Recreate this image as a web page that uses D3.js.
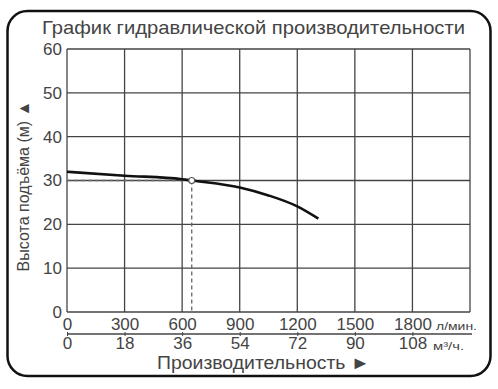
<!DOCTYPE html>
<html><head><meta charset="utf-8">
<script src="https://cdn.jsdelivr.net/npm/d3@7"></script>
<style>body{margin:0;background:#fff}svg{display:block}text{font-family:"Liberation Sans",Arial,sans-serif;fill:#444}</style>
</head><body>
<script>
const title = "График гидравлической производительности";
const yLabel = "Высота подъёма (м) ▲";
const xLabel = "Производительность ►";
const flowTicks = [0, 300, 600, 900, 1200, 1500, 1800];
const m3Ticks = [0, 18, 36, 54, 72, 90, 108];
const headTicks = [0, 10, 20, 30, 40, 50, 60];
const flowUnit = "л/мин.";
const m3Unit = "м³/ч.";
const curveFlow = [0, 300, 600, 650, 900, 1050, 1200, 1310];
const curveHead = [32.0, 31.1, 30.3, 30.0, 28.4, 26.6, 24.1, 21.3];
const opFlow = 650, opHead = 30;

const W = 498, H = 389;
const svg = d3.select("body").append("svg").attr("width", W).attr("height", H);
const L = 67, R = 470, T = 49, B = 312;
const x = d3.scaleLinear().domain([0, 2100]).range([L, R]);
const y = d3.scaleLinear().domain([0, 60]).range([B, T]);
const FF = "Liberation Sans, Arial, sans-serif";

// frame
svg.append("rect").attr("x", 7.5).attr("y", 11).attr("width", 483).attr("height", 365)
  .attr("rx", 20).attr("fill", "none").attr("stroke", "#111").attr("stroke-width", 2.5);

svg.append("text").attr("x", 42).attr("y", 34)
  .attr("font-size", 19).attr("textLength", 423).attr("lengthAdjust", "spacingAndGlyphs").text(title);

// grid
const gx = d3.range(0, 2101, 300);
svg.append("g").selectAll("line").data(gx).join("line")
  .attr("x1", d => x(d)).attr("x2", d => x(d)).attr("y1", T).attr("y2", B)
  .attr("stroke", "#444").attr("stroke-width", 1.3);
svg.append("g").selectAll("line").data(headTicks).join("line")
  .attr("x1", L).attr("x2", R).attr("y1", d => y(d)).attr("y2", d => y(d))
  .attr("stroke", "#444").attr("stroke-width", 1.3);

// y axis labels
const ya = svg.append("g").attr("transform", `translate(${L},0)`)
  .call(d3.axisLeft(y).tickValues(headTicks).tickSize(0).tickPadding(5));
ya.select(".domain").remove();
ya.selectAll("text").attr("font-size", 17).attr("fill", "#444").style("font-family", FF);

svg.append("text").attr("transform", "translate(29,186) rotate(-90)").attr("text-anchor", "middle")
  .attr("font-size", 16).text(yLabel);

// dashed operating lines
svg.append("line").attr("x1", L).attr("x2", x(opFlow)).attr("y1", y(opHead)).attr("y2", y(opHead))
  .attr("stroke", "#666").attr("stroke-width", 1.3).attr("stroke-dasharray", "4,3");
svg.append("line").attr("x1", x(opFlow)).attr("x2", x(opFlow)).attr("y1", y(opHead)).attr("y2", B)
  .attr("stroke", "#666").attr("stroke-width", 1.3).attr("stroke-dasharray", "4,3");

// curve
const pts = curveFlow.map((f, i) => [x(f), y(curveHead[i])]);
svg.append("path").attr("d", d3.line().curve(d3.curveMonotoneX)(pts))
  .attr("fill", "none").attr("stroke", "#111").attr("stroke-width", 2.6);
svg.append("circle").attr("cx", x(opFlow)).attr("cy", y(opHead)).attr("r", 3)
  .attr("fill", "#fff").attr("stroke", "#555").attr("stroke-width", 1.2);

// x axis labels row 1
const xa = svg.append("g").attr("transform", `translate(0,${B})`)
  .call(d3.axisBottom(x).tickValues(flowTicks).tickFormat(d3.format("d")).tickSize(0).tickPadding(6));
xa.select(".domain").remove();
xa.selectAll("text").attr("font-size", 17).attr("fill", "#444").style("font-family", FF);
svg.append("text").attr("x", 436).attr("y", 330).attr("font-size", 11)
  .attr("textLength", 41).attr("lengthAdjust", "spacingAndGlyphs").text(flowUnit);

// second axis
const xb = svg.append("g").attr("transform", `translate(0,334)`)
  .call(d3.axisBottom(x).tickValues(flowTicks).tickFormat((d, i) => m3Ticks[i]).tickSize(3).tickPadding(0));
xb.select(".domain").attr("d", `M${L},0H${R + 2}`).attr("stroke", "#444").attr("stroke-width", 1.3);
xb.selectAll(".tick line").attr("stroke", "#444").attr("y1", -2).attr("y2", 2);
xb.selectAll("text").attr("font-size", 17).attr("fill", "#444").style("font-family", FF);
svg.append("text").attr("x", 433).attr("y", 350).attr("font-size", 11)
  .attr("textLength", 31).attr("lengthAdjust", "spacingAndGlyphs").text(m3Unit);

svg.append("text").attr("x", 157).attr("y", 369)
  .attr("font-size", 18).attr("textLength", 213).attr("lengthAdjust", "spacingAndGlyphs").text(xLabel);
</script>
</body></html>
